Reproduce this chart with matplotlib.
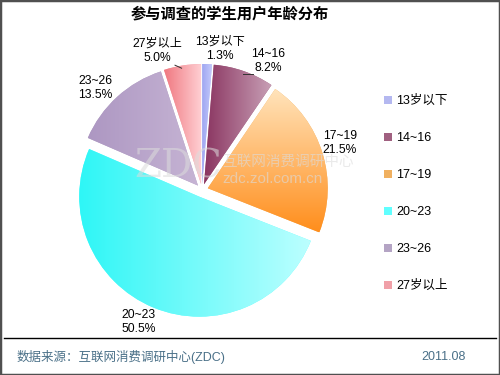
import matplotlib

matplotlib.use("Agg")
import matplotlib.pyplot as plt
import numpy as np
from matplotlib.colors import LinearSegmentedColormap
from matplotlib.lines import Line2D
from matplotlib.patches import Patch, Rectangle

plt.rcParams["font.family"] = ["Liberation Sans", "Noto Sans CJK SC", "DejaVu Sans"]

categories = ["13岁以下", "14~16", "17~19", "20~23", "23~26", "27岁以上"]
shares = [1.3, 8.2, 21.5, 50.5, 13.5, 5.0]

# gradient (start, end, direction) per slice, and flat legend swatch
GRAD = [
    ("#9ea6f2", "#c4c9fa", "h"),
    ("#8a3460", "#c8a0b6", "h"),
    ("#ffe4bc", "#ff8e1c", "v"),
    ("#2ef6f6", "#bcffff", "h"),
    ("#ad97c2", "#c6b4d4", "h"),
    ("#f07880", "#ffd0d4", "h"),
]
SWATCH = ["#b4b8f0", "#a06080", "#f0b060", "#60ffff", "#b4a4c4", "#f0a0a8"]
EXPLODE = [0.05, 0.05, 0.05, 0.06, 0.05, 0.05]
# label centres in pie units (radius = 1)
LABEL_POS = [(0.15, 1.175), (0.55, 1.075), (1.15, 0.39),
             (-0.53, -1.10), (-0.89, 0.85), (-0.37, 1.158)]

fig = plt.figure(figsize=(5, 3.75), dpi=100)
ax = fig.add_axes([2 / 500, 35 / 375, 400 / 500, 300 / 375])

wedges, _ = ax.pie(shares, startangle=90, counterclock=False, explode=EXPLODE,
                   colors=SWATCH, wedgeprops=dict(linewidth=0))

for w, (c0, c1, d) in zip(wedges, GRAD):
    x0, y0, x1, y1 = w.get_path().get_extents().extents
    cmap = LinearSegmentedColormap.from_list("g", [c0, c1])
    g = np.linspace(0, 1, 256)
    img = g[None, :] if d == "h" else g[:, None]
    origin = "lower" if d == "h" else "upper"
    im = ax.imshow(img, cmap=cmap, extent=(x0, x1, y0, y1), origin=origin,
                   aspect="auto", zorder=2, interpolation="bilinear")
    im.set_clip_path(w)

for (x, y), cat, v in zip(LABEL_POS, categories, shares):
    ax.text(x, y, f"{cat}\n{v:.1f}%", ha="center", va="center", fontsize=8.7,
            linespacing=1.25, zorder=6)

# small leader lines
ax.plot([-0.225, -0.17], [1.04, 1.015], color="#333333", lw=0.7, zorder=6)
ax.plot([0.34, 0.425], [0.967, 0.967], color="#333333", lw=0.7, zorder=6)

# watermark
ax.text(-0.56, 0.19, "ZDC", fontsize=28, family="DejaVu Serif", color="#dcdcdc",
        alpha=0.55, va="center", zorder=5)
ax.text(0.167, 0.235, "互联网消费调研中心", fontsize=10.5, family="Noto Sans CJK SC",
        color="#dcdcdc", alpha=0.6, va="center", zorder=5)
ax.text(0.167, 0.09, "zdc.zol.com.cn", fontsize=11, color="#dcdcdc",
        alpha=0.6, va="center", zorder=5)

ax.set_xlim(-200 / 120, 200 / 120)
ax.set_ylim(-150 / 120, 150 / 120)
ax.set_aspect("equal")
ax.axis("off")

handles = [Patch(facecolor=c, edgecolor="none") for c in SWATCH]
fig.legend(handles, categories, loc="upper left", bbox_to_anchor=(378 / 500, 1 - 89 / 375),
           frameon=False, fontsize=9, handlelength=0.6, handleheight=0.6,
           handletextpad=0.35, labelspacing=2.0, borderpad=0)

fig.text(230 / 500, 1 - 14 / 375, "参与调查的学生用户年龄分布", ha="center", va="center",
         fontsize=11, weight="bold", family="Noto Sans CJK SC")
fig.add_artist(Line2D([4 / 500, 496 / 500], [1 - 338 / 375] * 2, color="black", lw=1))
fig.text(17 / 500, 1 - 357 / 375, "数据来源：互联网消费调研中心(ZDC)", va="center",
         fontsize=9, color="#4a7088")
fig.text(466 / 500, 1 - 357 / 375, "2011.08", ha="right", va="center",
         fontsize=9, color="#4a7088")
fig.add_artist(Rectangle((0, 0), 1, 1, transform=fig.transFigure, fill=False,
                         edgecolor="#505050", lw=2.5))

fig.savefig("out.png", dpi=100)
